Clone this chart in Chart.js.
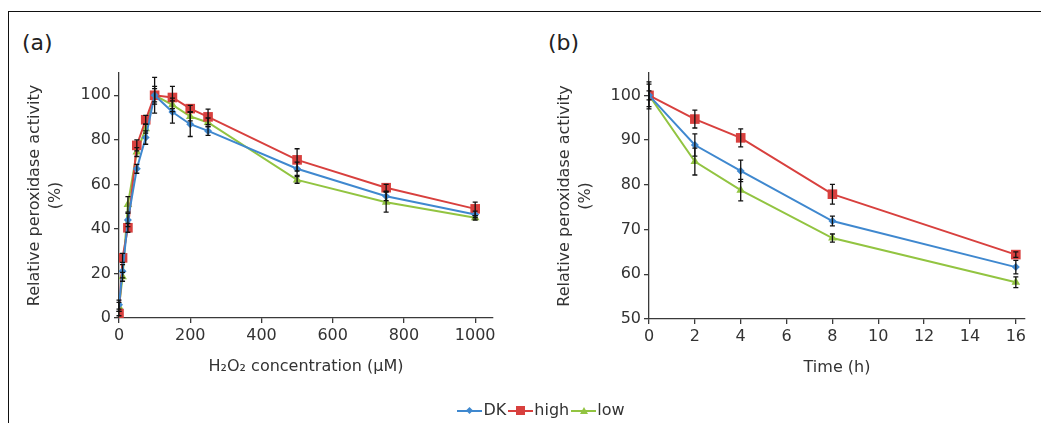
<!DOCTYPE html>
<html>
<head>
<meta charset="utf-8">
<script src="https://cdn.jsdelivr.net/npm/chart.js@4.4.1/dist/chart.umd.min.js"></script>
<style>
  html, body { margin: 0; padding: 0; background: #fff; }
  body { width: 1041px; height: 423px; position: relative; overflow: hidden;
         font-family: "DejaVu Sans", sans-serif; color: #333; }
  #frame { position: absolute; left: 8px; top: 11px; right: -5px; bottom: -5px;
           border-top: 1.5px solid #111; border-left: 1.5px solid #111; }
  .tag { position: absolute; top: 30px; font-size: 22px; color: #222; }
  .box { position: absolute; top: 0; height: 423px; }
  #legend { position: absolute; left: 0; width: 1082px; top: 400px; text-align: center;
            font-size: 16px; white-space: nowrap; }
  .item { display: inline-block; margin: 0 1px; }
  .sw { display: inline-block; position: relative; width: 25px; height: 2px;
        vertical-align: middle; margin-right: 1px; }
  .mk { position: absolute; left: 50%; top: 50%; }
</style>
</head>
<body>
<div id="frame"></div>
<div class="tag" style="left:22px">(a)</div>
<div class="tag" style="left:548px">(b)</div>
<div class="box" style="left:0;width:520px"><canvas id="chartA"></canvas></div>
<div class="box" style="left:520px;width:521px"><canvas id="chartB"></canvas></div>
<div id="legend"></div>
<script>
"use strict";

const seriesNames = ["DK", "high", "low"];
const seriesColors = ["#3f88cf", "#d8403e", "#92c441"];
const seriesMarkers = ["rectRot", "rect", "triangle"];
const markerSizes = [4, 6.8, 5];

// (a) H2O2 concentration (µM)
const concX = [0, 10, 25, 50, 75, 100, 150, 200, 250, 500, 750, 1000];
const concDK = [6, 21, 44, 67, 81, 100, 92.5, 87, 84, 67, 54.7, 46.5];
const concHigh = [2, 27, 40.5, 77.5, 89, 100, 99, 94, 90.3, 71, 58.5, 49];
const concLow = [5, 18.5, 51, 74.5, 85, 100, 95.7, 90.5, 87.8, 62, 52, 45];
const concErrDK = [2, 3, 3, 2, 3, 8, 5, 5.5, 2, 3, 2, 1.5];
const concErrHigh = [1, 2, 2, 2.5, 2, 4, 5, 1.5, 3.5, 5, 1.5, 3];
const concErrLow = [2, 2, 3.5, 2, 2, 3, 3, 2, 2, 1.5, 4.5, 1];
const concTicksY = { min: 0, max: 110, step: 20 };
const concTicksX = { min: 0, max: 1050, step: 200 };

// (b) Time (h)
const timeX = [0, 2, 4, 8, 16];
const timeDK = [100, 88.9, 83.1, 71.9, 61.6];
const timeHigh = [100, 94.7, 90.5, 77.9, 64.4];
const timeLow = [100, 85.2, 78.8, 68.1, 58.2];
const timeErrDK = [2.5, 2.5, 2.4, 1.1, 1.5];
const timeErrHigh = [1, 2, 2, 2.2, 0.6];
const timeErrLow = [3, 3, 2.4, 0.9, 1.2];
const timeTicksY = { min: 50, max: 105, step: 10 };
const timeTicksX = { min: 0, max: 16.4, step: 2 };

const FONT = "'DejaVu Sans', sans-serif";
const AXIS = "#3a3a3a";

const errorBars = {
  id: "errorBars",
  afterDatasetsDraw(chart, args, opts) {
    const { ctx, scales } = chart;
    ctx.save();
    ctx.strokeStyle = "#111";
    ctx.lineWidth = 1.3;
    chart.data.datasets.forEach((ds, i) => {
      const meta = chart.getDatasetMeta(i);
      const errs = opts.errors[i];
      meta.data.forEach((pt, j) => {
        const v = ds.data[j].y;
        const e = errs[j];
        if (!e) return;
        const yt = scales.y.getPixelForValue(v + e);
        const yb = scales.y.getPixelForValue(v - e);
        const x = pt.x;
        ctx.beginPath();
        ctx.moveTo(x, yt); ctx.lineTo(x, yb);
        ctx.moveTo(x - 2.5, yt); ctx.lineTo(x + 2.5, yt);
        ctx.moveTo(x - 2.5, yb); ctx.lineTo(x + 2.5, yb);
        ctx.stroke();
      });
    });
    ctx.restore();
  },
};

function makeSets(xs, ys) {
  return ys.map((vals, i) => ({
    label: seriesNames[i],
    data: xs.map((x, j) => ({ x, y: vals[j] })),
    borderColor: seriesColors[i],
    backgroundColor: seriesColors[i],
    borderWidth: 2,
    pointStyle: seriesMarkers[i],
    pointRadius: markerSizes[i],
    pointBorderWidth: 0,
    tension: 0,
  }));
}

function axisOpts(t, extra) {
  return Object.assign({
    type: "linear",
    min: t.min,
    max: t.max,
    border: { display: true, color: AXIS, width: 1.3 },
    grid: { drawOnChartArea: false, drawTicks: true, tickLength: 5, color: AXIS, lineWidth: 1.3 },
    ticks: {
      stepSize: t.step, includeBounds: false, color: "#333",
      font: { family: FONT, size: 16 },
      callback: (v) => String(v),
    },
  }, extra);
}

function buildChart(el, cfg) {
  return new Chart(el, {
    type: "line",
    data: { datasets: makeSets(cfg.xs, cfg.ys) },
    options: {
      responsive: true,
      maintainAspectRatio: false,
      animation: false,
      layout: { padding: cfg.pad },
      plugins: {
        legend: { display: false },
        tooltip: { enabled: false },
        errorBars: { errors: cfg.errs },
      },
      scales: {
        x: axisOpts(cfg.tx, {
          afterFit: (s) => { s.height = 60; },
          title: { display: true, text: cfg.xTitle, color: "#333",
                   font: { family: FONT, size: 16, lineHeight: 1.3 }, padding: { top: 0, bottom: 1 } },
        }),
        y: axisOpts(cfg.ty, {
          afterFit: (s) => { s.width = cfg.yWidth; },
          title: { display: true, text: ["Relative peroxidase activity", "(%)"], color: "#333",
                   font: { family: FONT, size: 16, lineHeight: 1.3 }, padding: { top: cfg.yTitlePad, bottom: 0 } },
        }),
      },
    },
    plugins: [errorBars],
  });
}

buildChart(document.getElementById("chartA"), {
  xs: concX,
  ys: [concDK, concHigh, concLow],
  errs: [concErrDK, concErrHigh, concErrLow],
  tx: concTicksX, ty: concTicksY,
  xTitle: "H\u2082O\u2082 concentration (\u00b5M)",
  yWidth: 119, yTitlePad: 24.6,
  pad: { left: 0, top: 73, right: 27, bottom: 45 },
});

buildChart(document.getElementById("chartB"), {
  xs: timeX,
  ys: [timeDK, timeHigh, timeLow],
  errs: [timeErrDK, timeErrHigh, timeErrLow],
  tx: timeTicksX, ty: timeTicksY,
  xTitle: "Time (h)",
  yWidth: 129, yTitlePad: 34.6,
  pad: { left: 0, top: 73, right: 16, bottom: 44 },
});

// legend: line + marker swatches
const legend = document.getElementById("legend");
seriesNames.forEach((name, i) => {
  const c = seriesColors[i];
  let mk;
  if (seriesMarkers[i] === "rect") {
    mk = `width:9px;height:9px;margin:-4.5px 0 0 -4.5px;background:${c}`;
  } else if (seriesMarkers[i] === "rectRot") {
    mk = `width:5px;height:5px;margin:-2.5px 0 0 -2.5px;background:${c};transform:rotate(45deg)`;
  } else {
    mk = `width:0;height:0;margin:-4px 0 0 -4px;border-left:4px solid transparent;border-right:4px solid transparent;border-bottom:7px solid ${c}`;
  }
  const item = document.createElement("span");
  item.className = "item";
  item.innerHTML = `<span class="sw" style="background:${c}"><span class="mk" style="${mk}"></span></span>${name}`;
  legend.appendChild(item);
});
</script>
</body>
</html>
